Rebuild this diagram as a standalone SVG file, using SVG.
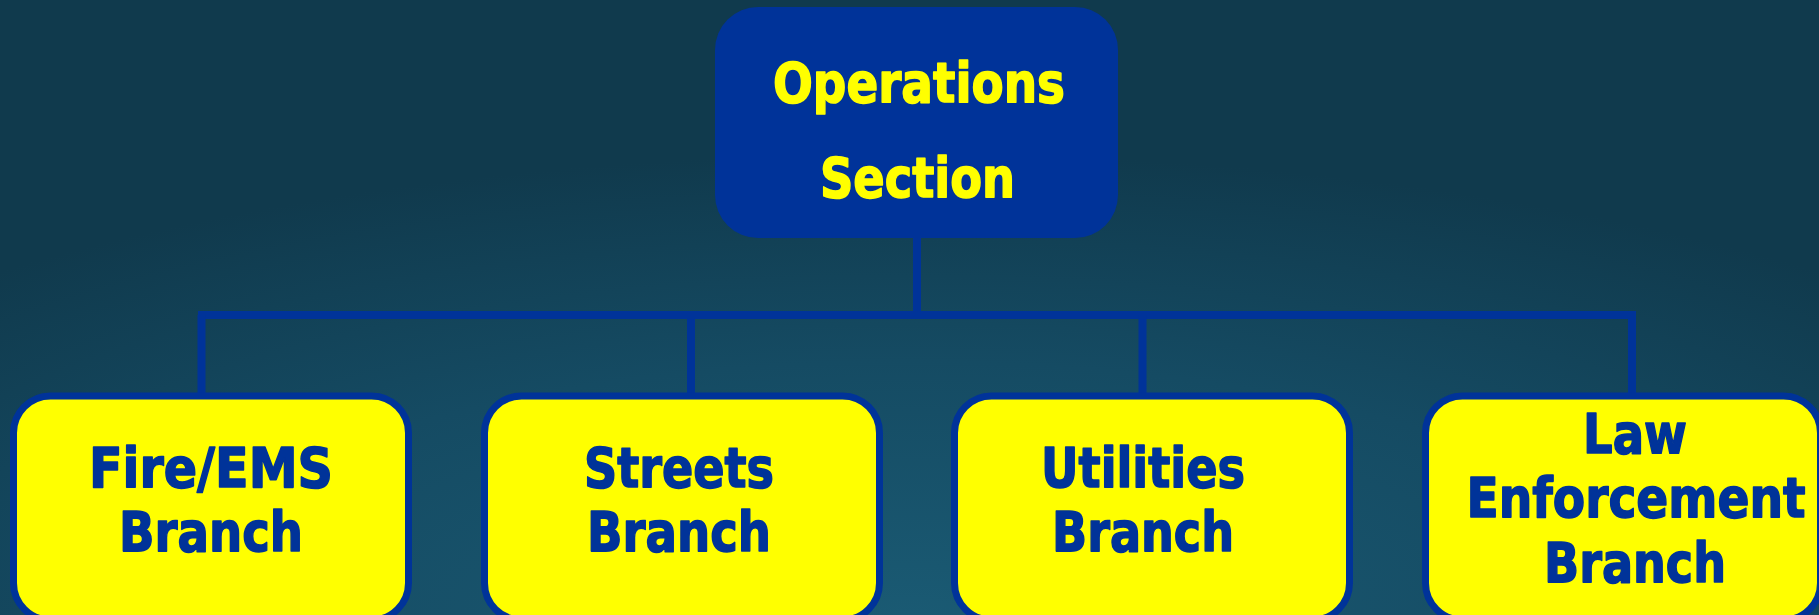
<svg xmlns="http://www.w3.org/2000/svg" width="1819" height="615" viewBox="0 0 1819 615">
<defs>
<radialGradient id="bg" cx="50%" cy="100%" r="75%" fx="50%" fy="100%">
<stop offset="0" stop-color="#1a5a73"/>
<stop offset="0.55" stop-color="#154b63"/>
<stop offset="1" stop-color="#103a4d"/>
</radialGradient>
</defs>
<style>
.lbl{font-family:"DejaVu Sans","Liberation Sans",sans-serif;font-weight:bold;font-size:56px;text-anchor:middle;stroke-width:1.6;stroke-linejoin:round}
.top{fill:#FFFF00;stroke:#FFFF00}
.sub{fill:#003399;stroke:#003399}
.box{fill:#FFFF00;stroke:#003399;stroke-width:7}
.conn{fill:none;stroke:#003399;stroke-width:8}
</style>
<rect x="0" y="0" width="1819" height="615" fill="url(#bg)"/>
<g id="connectors">
<path class="conn" d="M917 238V315M198 315H1636"/>
<path class="conn" d="M201.5 315V393M691 315V393M1142.5 315V393M1632 315V393" stroke-width="7"/>
</g>
<g id="operations">
<rect x="715" y="7" width="403" height="231" rx="43" fill="#003399"/>
<text class="lbl top" x="919" y="102" textLength="292" lengthAdjust="spacingAndGlyphs">Operations</text>
<text class="lbl top" x="917.5" y="197" textLength="195" lengthAdjust="spacingAndGlyphs">Section</text>
</g>
<g id="fire">
<rect class="box" x="13.5" y="396" width="395" height="224" rx="37"/>
<text class="lbl sub" x="211" y="487" textLength="244" lengthAdjust="spacingAndGlyphs">Fire/EMS</text>
<text class="lbl sub" x="211" y="551" textLength="184" lengthAdjust="spacingAndGlyphs">Branch</text>
</g>
<g id="streets">
<rect class="box" x="484.5" y="396" width="395" height="224" rx="37"/>
<text class="lbl sub" x="679" y="487" textLength="190" lengthAdjust="spacingAndGlyphs">Streets</text>
<text class="lbl sub" x="679" y="551" textLength="184" lengthAdjust="spacingAndGlyphs">Branch</text>
</g>
<g id="utilities">
<rect class="box" x="954.5" y="396" width="395" height="224" rx="37"/>
<text class="lbl sub" x="1143" y="487" textLength="204" lengthAdjust="spacingAndGlyphs">Utilities</text>
<text class="lbl sub" x="1143" y="551" textLength="182" lengthAdjust="spacingAndGlyphs">Branch</text>
</g>
<g id="law">
<rect class="box" x="1425.5" y="396" width="395" height="224" rx="37"/>
<text class="lbl sub" x="1635" y="453" textLength="104" lengthAdjust="spacingAndGlyphs">Law</text>
<text class="lbl sub" x="1636" y="517" textLength="339" lengthAdjust="spacingAndGlyphs">Enforcement</text>
<text class="lbl sub" x="1635" y="582" textLength="182" lengthAdjust="spacingAndGlyphs">Branch</text>
</g>
</svg>
